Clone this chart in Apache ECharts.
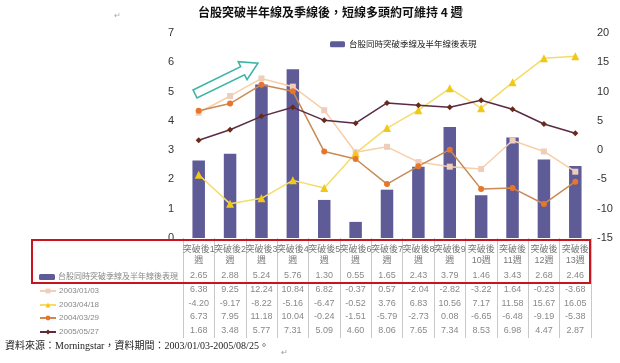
<!DOCTYPE html>
<html><head><meta charset="utf-8">
<script src="https://cdn.jsdelivr.net/npm/echarts@6/dist/echarts.min.js"></script>
<style>html,body{margin:0;padding:0;background:#fff}#c{width:620px;height:363px}</style>
</head><body><div id="c"></div>
<script>
var categories = ['突破後1週','突破後2週','突破後3週','突破後4週','突破後5週','突破後6週','突破後7週','突破後8週','突破後9週','突破後10週','突破後11週','突破後12週','突破後13週'];
var barName = '台股同時突破季線及半年線後表現';
var barValues = [2.65, 2.88, 5.24, 5.76, 1.30, 0.55, 1.65, 2.43, 3.79, 1.46, 3.43, 2.68, 2.46];
var s20030103 = [6.38, 9.25, 12.24, 10.84, 6.82, -0.37, 0.57, -2.04, -2.82, -3.22, 1.64, -0.23, -3.68];
var s20030418 = [-4.20, -9.17, -8.22, -5.16, -6.47, -0.52, 3.76, 6.83, 10.56, 7.17, 11.58, 15.67, 16.05];
var s20040329 = [6.73, 7.95, 11.18, 10.04, -0.24, -1.51, -5.79, -2.73, 0.08, -6.65, -6.48, -9.19, -5.38];
var s20050527 = [1.68, 3.48, 5.77, 7.31, 5.09, 4.60, 8.06, 7.65, 7.34, 8.53, 6.98, 4.47, 2.87];
var lineNames = ['2003/01/03', '2003/04/18', '2004/03/29', '2005/05/27'];
var leftTicks = {min: 0, max: 7, interval: 1};
var rightTicks = {min: -15, max: 20, interval: 5};

var lineData = [s20030103, s20030418, s20040329, s20050527];
var lineStyles = [
  {line: '#f7cfa8', mark: '#efcdbd', sym: 'rect'},
  {line: '#f5dc6a', mark: '#f1c815', sym: 'triangle'},
  {line: '#c98a55', mark: '#e8762a', sym: 'circle'},
  {line: '#5b2b45', mark: '#6a2a18', sym: 'diamond'}
];
var CJK = '"Liberation Sans","Noto Sans CJK TC",sans-serif';

function headerFmt(v) {
  var n = v.replace('突破後', '').replace('週', '');
  return n.length === 1 ? '突破後' + n + '\n週' : '突破後\n' + n + '週';
}

var rowSeries = [barValues].concat(lineData);
var rowNames = [barName].concat(lineNames);
var rowY = [276, 290, 304, 317, 331];

var xAxes = [{
  type: 'category', data: categories, gridIndex: 0, position: 'bottom',
  axisLine: {show: false},
  axisTick: {show: true, interval: 0, length: 100, lineStyle: {color: '#c8c8c8', width: 1}},
  axisLabel: {interval: 0, fontSize: 9, lineHeight: 11, color: '#777', margin: 6, fontFamily: CJK, formatter: headerFmt}
}];
rowSeries.forEach(function (arr, k) {
  xAxes.push({
    type: 'category', data: categories, gridIndex: 0, position: 'bottom',
    offset: rowY[k] - 238 - 5,
    axisLine: {show: false}, axisTick: {show: false}, splitLine: {show: false},
    axisLabel: {interval: 0, fontSize: 9, color: '#888', margin: 0, fontFamily: CJK,
      formatter: (function (a) { return function (v, i) { return a[i].toFixed(2); }; })(arr)}
  });
});

var series = [{
  name: barName, type: 'bar', data: barValues, yAxisIndex: 0, xAxisIndex: 0,
  barWidth: 12.5, itemStyle: {color: '#5f5b96'}, z: 1
}];
lineNames.forEach(function (nm, k) {
  series.push({
    name: nm, type: 'line', data: lineData[k], yAxisIndex: 1, xAxisIndex: 0,
    symbol: lineStyles[k].sym, symbolSize: lineStyles[k].sym === 'triangle' ? 8 : 6,
    lineStyle: {color: lineStyles[k].line, width: 1.5},
    itemStyle: {color: lineStyles[k].mark}, z: 3
  });
});

var legends = [{
  data: [barName], left: 330, top: 40, itemWidth: 15, itemHeight: 6, padding: 0,
  textStyle: {fontSize: 8.5, color: '#222', fontFamily: CJK, padding: [0, 0, 0, -1]}, itemGap: 4, selectedMode: false
}];
rowNames.forEach(function (nm, k) {
  legends.push({
    data: [nm], left: 39, top: rowY[k] - 3, itemWidth: 16, itemHeight: 6, itemGap: 3, padding: 0,
    textStyle: {fontSize: 8, color: '#888', fontFamily: CJK, padding: [0, 0, 0, -2]}, selectedMode: false
  });
});

var chart = echarts.init(document.getElementById('c'));
chart.setOption({
  animation: false,
  backgroundColor: '#fff',
  title: [{
    text: '台股突破半年線及季線後，短線多頭約可維持 4 週', left: 198, top: 6, padding: 0,
    textStyle: {fontSize: 12, fontWeight: 'bold', color: '#111', fontFamily: '"Noto Sans CJK TC",sans-serif'}
  }, {
    text: '資料來源：Morningstar，資料期間：2003/01/03-2005/08/25。', left: 5, top: 341, padding: 0,
    textStyle: {fontSize: 10, fontWeight: 'normal', color: '#222', fontFamily: '"Liberation Serif","Noto Sans CJK TC",serif'}
  }],
  legend: legends,
  grid: {left: 183, right: 29, top: 33, bottom: 125, containLabel: false},
  xAxis: xAxes,
  yAxis: [{
    type: 'value', min: leftTicks.min, max: leftTicks.max, interval: leftTicks.interval, position: 'left',
    axisLine: {show: false}, axisTick: {show: false}, splitLine: {show: false},
    axisLabel: {fontSize: 11, color: '#333', margin: 9, fontFamily: '"Liberation Sans",sans-serif'}
  }, {
    type: 'value', min: rightTicks.min, max: rightTicks.max, interval: rightTicks.interval, position: 'right',
    axisLine: {show: false}, axisTick: {show: false}, splitLine: {show: false},
    axisLabel: {fontSize: 11, color: '#333', margin: 6, fontFamily: '"Liberation Sans",sans-serif'}
  }],
  series: series,
  graphic: [{
    type: 'polygon', x: 195, y: 94, rotation: 26 * Math.PI / 180, z: 100,
    shape: {points: [[0, -4.5], [53, -4.5], [53, -10], [70, 0], [53, 10], [53, 4.5], [0, 4.5]]},
    style: {fill: '#fff', stroke: '#3db6a6', lineWidth: 1.6}
  }, {
    type: 'rect', z: 100, shape: {x: 32, y: 240, width: 558, height: 43},
    style: {fill: 'none', stroke: '#c8141e', lineWidth: 2}
  }, {
    type: 'text', x: 457, y: 7, z: 100, style: {text: '↵', fontSize: 9, fill: '#999'}
  }, {
    type: 'text', x: 114, y: 12, z: 100, style: {text: '↵', fontSize: 8, fill: '#aaa'}
  }, {
    type: 'text', x: 281, y: 349, z: 100, style: {text: '↵', fontSize: 8, fill: '#999'}
  }]
});
</script></body></html>
